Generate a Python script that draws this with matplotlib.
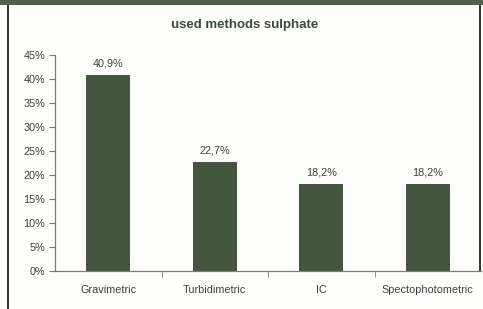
import matplotlib.pyplot as plt
from matplotlib.patches import Rectangle

plt.rcParams['font.family'] = ['Liberation Sans', 'DejaVu Sans']

methods = ["Gravimetric", "Turbidimetric", "IC", "Spectophotometric"]
shares = [40.9, 22.7, 18.2, 18.2]
value_labels = ["40,9%", "22,7%", "18,2%", "18,2%"]
yticks = [0, 5, 10, 15, 20, 25, 30, 35, 40, 45]

bg = "#fdfdfb"
bar_color = "#445640"
text_color = "#404040"
axis_color = "#7a7a7a"

fig = plt.figure(figsize=(4.83, 3.09), dpi=100, facecolor=bg)
W, H = 483, 309

ax = fig.add_axes([55 / W, 1 - 271 / H, 426 / W, (271 - 55) / H])
ax.set_facecolor("none")

x = list(range(len(methods)))
ax.bar(x, shares, width=0.41, color=bar_color)
for xi, v, lab in zip(x, shares, value_labels):
    ax.text(xi, v + 1.3, lab, ha="center", va="bottom", fontsize=7.8, color=text_color)

ax.set_xlim(-0.5, len(methods) - 0.5)
ax.set_ylim(0, 45)
ax.set_yticks(yticks)
ax.set_yticklabels([f"{t}%" for t in yticks], fontsize=7.8, color=text_color)
ax.set_xticks(x)
ax.set_xticklabels(methods, fontsize=7.8, color=text_color)
ax.tick_params(axis="x", length=0, pad=10)
ax.set_xticks([i + 0.5 for i in range(len(methods) - 1)], minor=True)
ax.tick_params(axis="x", which="minor", length=4, color=axis_color)
ax.tick_params(axis="y", length=4, color=axis_color, pad=3)

for s in ["top", "right"]:
    ax.spines[s].set_visible(False)
for s in ["left", "bottom"]:
    ax.spines[s].set_color(axis_color)
    ax.spines[s].set_linewidth(0.9)


def px_rect(x0, y0, w, h, color):
    # rectangle given in pixel units from the top-left corner
    fig.add_artist(Rectangle((x0 / W, 1 - (y0 + h) / H), w / W, h / H,
                             transform=fig.transFigure, facecolor=color,
                             edgecolor="none", zorder=10))


# frame around the chart (screenshot borders)
px_rect(0, 0, W, 5, "#4f5f4c")
px_rect(7, 5, 2, H - 5, "#3a3a3a")
px_rect(479, 5, 2, 266, "#3a3a3a")

fig.text(245 / W, 1 - 25 / H, "used methods sulphate", ha="center", va="center",
         fontsize=9.5, fontweight="bold", color="#3d4a3b")

fig.savefig("out.png", dpi=100, facecolor=bg)
